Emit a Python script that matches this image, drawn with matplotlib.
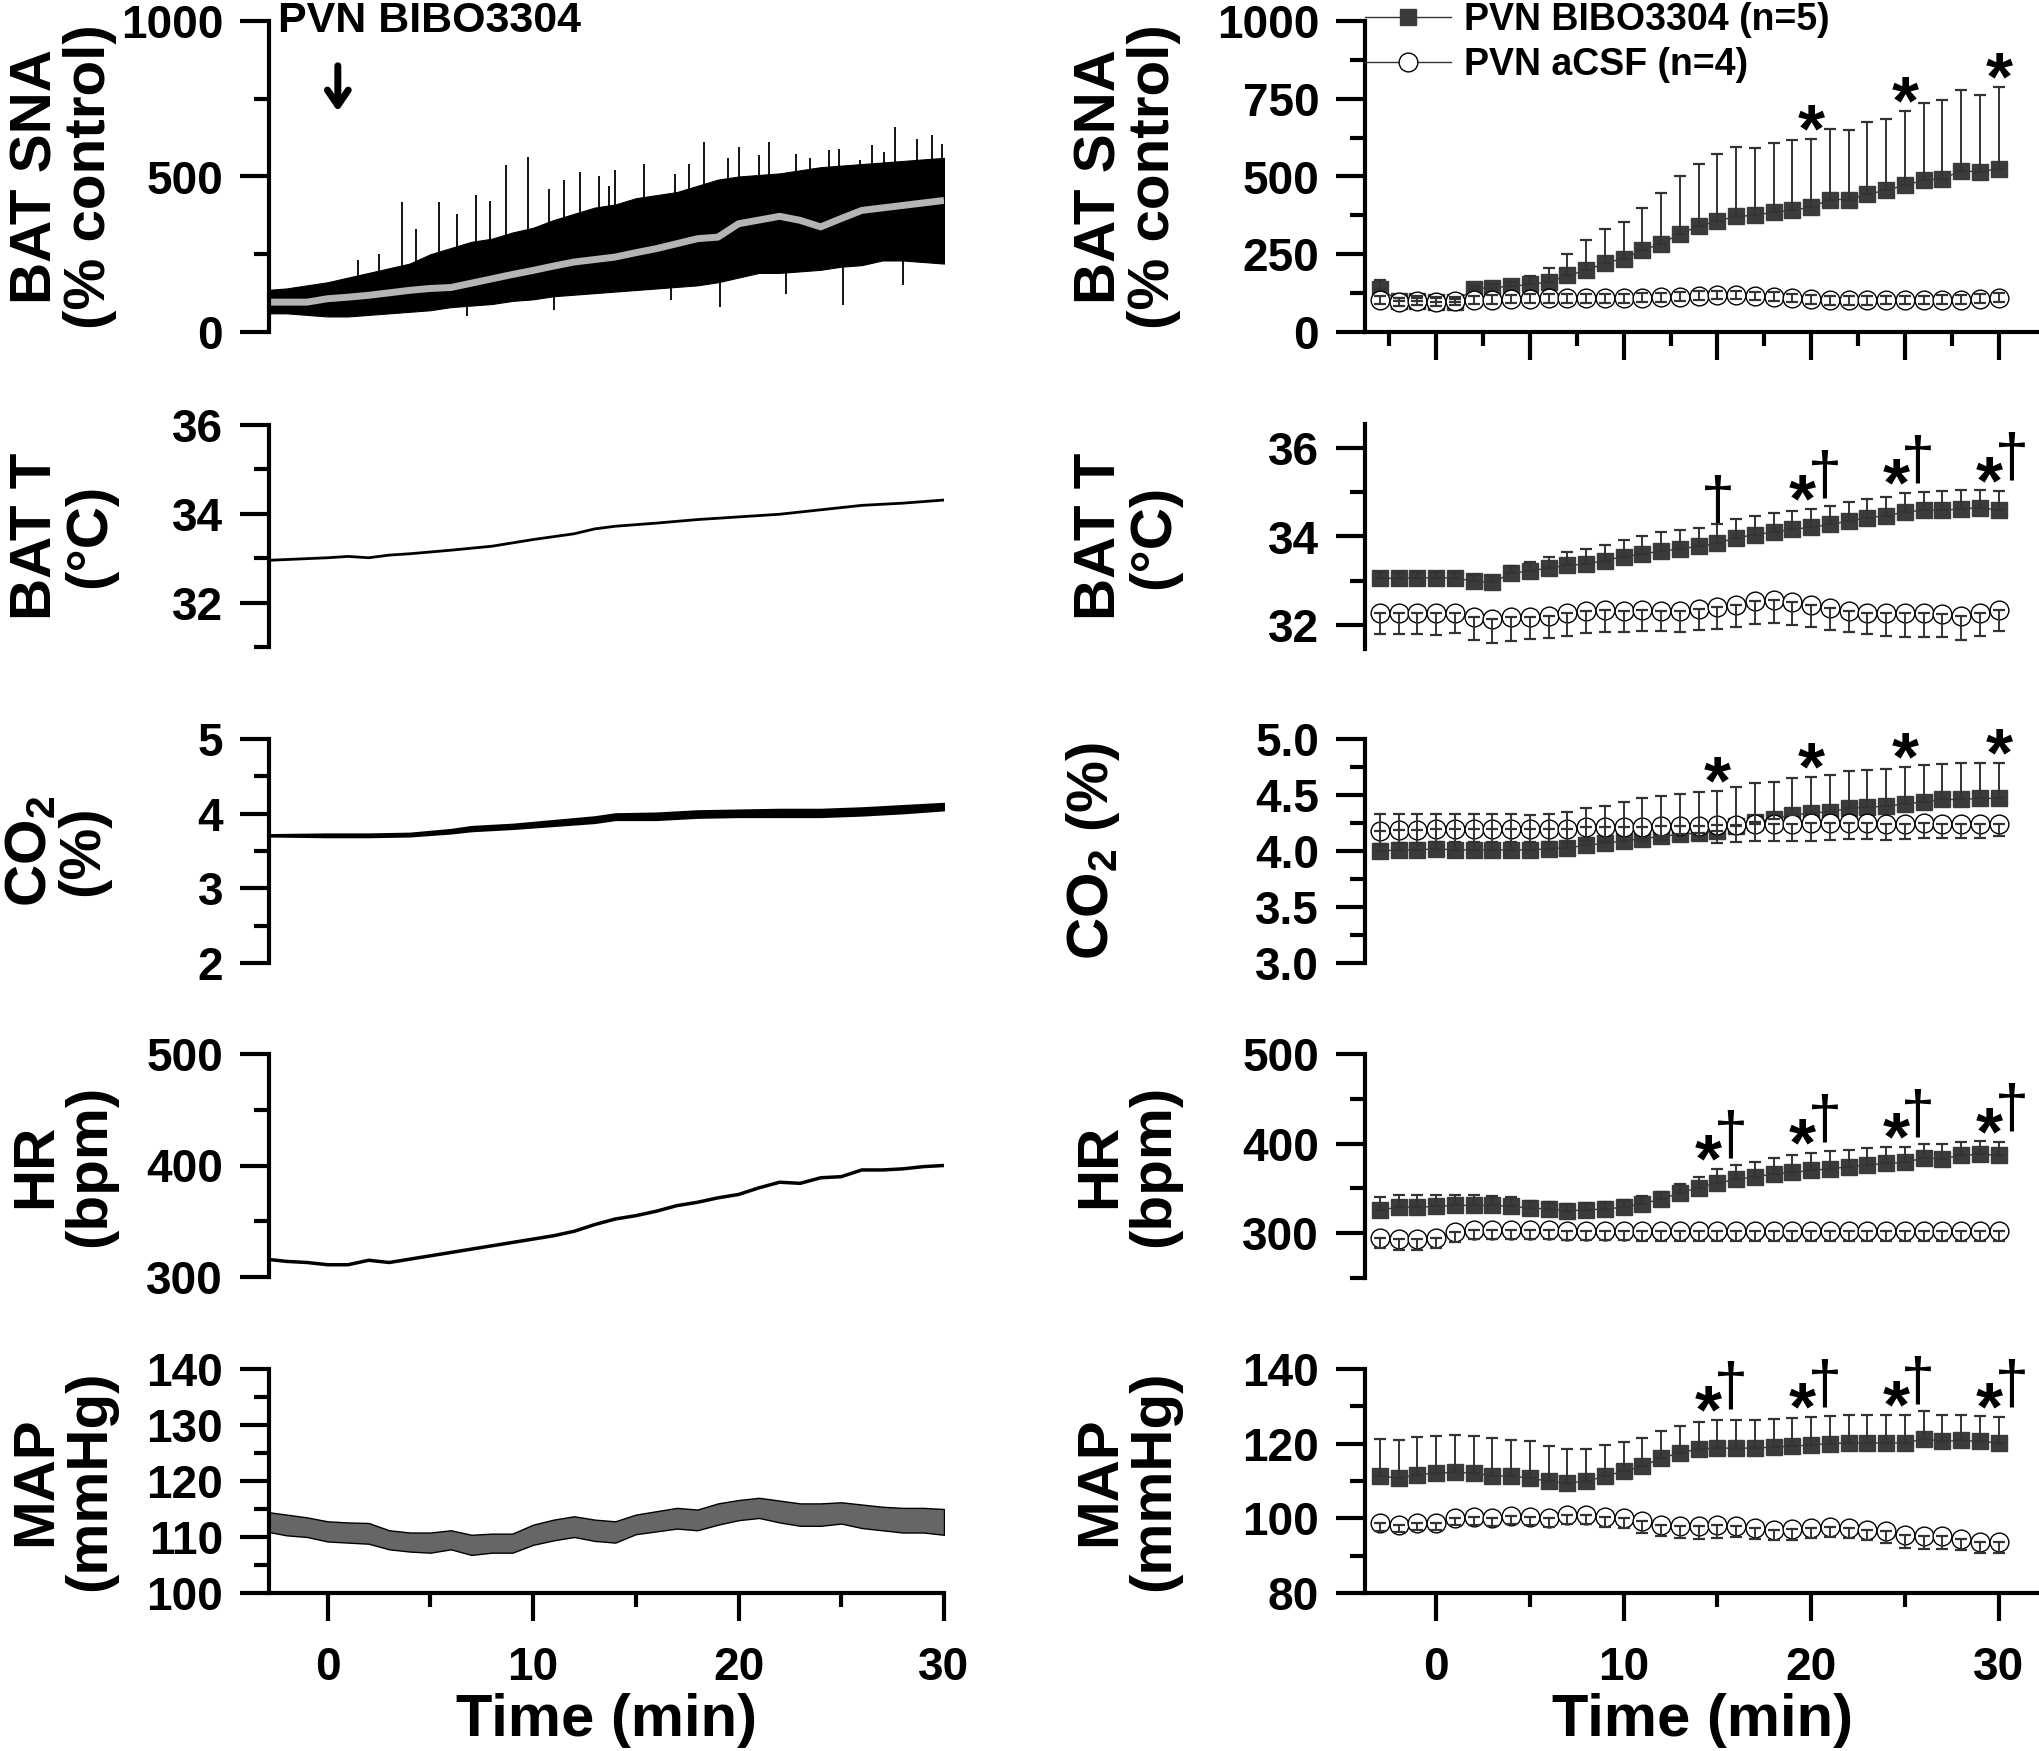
import matplotlib
matplotlib.use('Agg')
import matplotlib.pyplot as plt
import numpy as np
from matplotlib.ticker import MultipleLocator, FormatStrFormatter
from matplotlib.lines import Line2D

plt.rcParams['font.family'] = ['Liberation Sans', 'DejaVu Sans']
plt.rcParams['font.weight'] = 'bold'
plt.rcParams['axes.labelweight'] = 'bold'
plt.rcParams['mathtext.fontset'] = 'custom'
plt.rcParams['mathtext.bf'] = 'Liberation Sans:bold'
plt.rcParams['mathtext.rm'] = 'Liberation Sans:bold'
plt.rcParams['mathtext.default'] = 'bf'

# ---------------- left column: single-rat traces ----------------
# BAT SNA envelope (min / max of raw trace) and running mean, every minute
t_trace = list(range(-3, 31))
sna_hi = [135, 140, 150, 160, 175, 190, 205, 220, 250, 270, 290, 300, 320, 335, 360, 380, 400,
          410, 430, 440, 450, 470, 490, 500, 505, 510, 520, 530, 535, 540, 545, 550, 555, 560]
sna_lo = [60, 60, 55, 50, 50, 55, 60, 65, 70, 80, 85, 90, 100, 105, 115, 120, 125,
          130, 135, 140, 145, 150, 160, 175, 190, 190, 195, 200, 210, 215, 230, 230, 225, 220]
sna_mean = [96, 96, 96, 107, 112, 118, 126, 134, 140, 143, 157, 171, 185, 198, 212, 225, 233,
            241, 255, 268, 284, 300, 305, 348, 360, 372, 359, 338, 365, 391, 399, 407, 415, 423]
spike_t = [1.5, 2.5, 3.6, 4.3, 5.4, 6.3, 7.2, 7.9, 8.7, 9.75, 10.8, 11.5, 12.3, 13.2, 13.7,
           14.0, 15.4, 16.9, 17.6, 18.3, 19.5, 20.0, 21.0, 21.5, 22.8, 23.5, 24.4, 24.9, 25.9,
           26.5, 27.1, 27.6, 28.7, 29.4, 29.9,
           16.7, 19.1, 22.3, 25.1, 28.0, 11.0, 6.8]
spike_v = [230, 250, 418, 330, 418, 380, 440, 420, 536, 563, 460, 490, 514, 500, 470,
           520, 541, 509, 540, 611, 560, 595, 570, 611, 573, 560, 584, 590, 552,
           600, 580, 659, 620, 632, 605,
           102, 80, 123, 86, 150, 70, 50]

t_batt = [-3, 0, 1, 2, 3, 4, 6, 8, 10, 12, 13, 14, 16, 18, 20, 22, 24, 26, 28, 30]
batt_trace = [32.95, 33.01, 33.04, 33.01, 33.07, 33.10, 33.18, 33.27, 33.42, 33.55, 33.66,
              33.72, 33.79, 33.87, 33.93, 33.99, 34.09, 34.19, 34.24, 34.31]

t_co2 = [-3, 0, 2, 4, 6, 7, 9, 11, 13, 14, 16, 18, 20, 22, 24, 26, 28, 30]
co2_hi = [3.72, 3.73, 3.73, 3.74, 3.79, 3.83, 3.86, 3.91, 3.96, 4.00, 4.01, 4.04, 4.05, 4.06,
          4.06, 4.08, 4.11, 4.14]
co2_lo = [3.70, 3.69, 3.69, 3.70, 3.74, 3.77, 3.80, 3.84, 3.88, 3.92, 3.92, 3.95, 3.96, 3.96,
          3.96, 3.98, 4.01, 4.05]

hr_trace = [316, 314, 313, 311, 311, 315, 313, 316, 319, 322, 325, 328, 331, 334, 337, 341, 347,
            352, 355, 359, 364, 367, 371, 374, 380, 385, 384, 389, 390, 396, 396, 397, 399, 400]

map_hi = [114.5, 114.0, 113.5, 112.8, 112.6, 112.5, 111.2, 110.8, 110.8, 111.2, 110.4, 110.6,
          110.6, 112.2, 113.1, 113.7, 113.1, 112.8, 114.0, 114.6, 115.2, 114.9, 116.0, 116.6,
          117.0, 116.5, 116.0, 116.0, 116.2, 115.8, 115.4, 115.2, 115.2, 115.0]
map_lo = [111.0, 110.3, 110.0, 109.2, 109.0, 108.8, 107.8, 107.4, 107.2, 107.8, 106.8, 107.2,
          107.2, 108.6, 109.4, 110.0, 109.3, 109.0, 110.5, 111.0, 111.5, 111.2, 112.2, 113.0,
          113.4, 112.6, 112.0, 112.0, 112.4, 111.6, 111.2, 110.8, 110.8, 110.4]

# ---------------- right column: group means (min -3 .. 30) ----------------
t_grp = list(range(-3, 31))
sna_bibo = [139, 100, 100, 98, 97, 139, 143, 147, 153, 161, 182, 198, 222, 236, 263, 284, 316,
            340, 357, 372, 375, 386, 391, 402, 426, 426, 443, 456, 472, 488, 493, 518, 515, 525]
sna_bibo_err = [27, 10, 10, 10, 10, 8, 10, 14, 26, 46, 70, 97, 109, 119, 137, 163, 187,
                201, 214, 223, 217, 222, 225, 220, 228, 223, 231, 230, 238, 248, 252, 259, 248, 263]
sna_acsf = [103, 96, 101, 97, 100, 103, 104, 106, 107, 108, 108, 108, 108, 108, 110, 112, 114,
            117, 119, 119, 116, 114, 109, 105, 102, 102, 102, 103, 103, 103, 104, 104, 107, 110]
sna_acsf_err = [14] * 34

batt_bibo = [33.06, 33.06, 33.07, 33.07, 33.07, 32.99, 32.97, 33.17, 33.23, 33.29, 33.35, 33.38,
             33.46, 33.55, 33.61, 33.67, 33.72, 33.78, 33.85, 33.97, 34.04, 34.10, 34.16, 34.21,
             34.27, 34.35, 34.42, 34.47, 34.55, 34.59, 34.59, 34.62, 34.65, 34.59]
batt_bibo_err = [0.14, 0.14, 0.14, 0.14, 0.14, 0.14, 0.14, 0.16, 0.20, 0.25, 0.30, 0.33, 0.36,
                 0.38, 0.40, 0.42, 0.42, 0.42, 0.44, 0.43, 0.42, 0.42, 0.42, 0.41, 0.41, 0.42,
                 0.42, 0.42, 0.42, 0.42, 0.43, 0.42, 0.40, 0.44]
batt_acsf = [32.29, 32.29, 32.29, 32.27, 32.29, 32.20, 32.14, 32.18, 32.20, 32.22, 32.27, 32.33,
             32.35, 32.33, 32.35, 32.33, 32.32, 32.37, 32.42, 32.47, 32.56, 32.57, 32.52, 32.47,
             32.39, 32.33, 32.29, 32.27, 32.27, 32.27, 32.26, 32.22, 32.27, 32.35]
batt_acsf_err = [0.49, 0.49, 0.48, 0.48, 0.45, 0.52, 0.53, 0.52, 0.51, 0.51, 0.50, 0.50,
                 0.50, 0.48, 0.48, 0.46, 0.46, 0.48, 0.50, 0.50, 0.52, 0.52, 0.50, 0.50,
                 0.50, 0.48, 0.48, 0.50, 0.52, 0.52, 0.52, 0.54, 0.50, 0.48]

co2_bibo = [4.00, 4.01, 4.01, 4.02, 4.01, 4.01, 4.01, 4.01, 4.01, 4.02, 4.03, 4.05, 4.07, 4.09,
            4.11, 4.13, 4.15, 4.16, 4.18, 4.22, 4.26, 4.29, 4.32, 4.34, 4.35, 4.38, 4.39, 4.40,
            4.42, 4.44, 4.46, 4.46, 4.47, 4.47]
co2_bibo_err = [0.33, 0.32, 0.32, 0.31, 0.32, 0.32, 0.32, 0.32, 0.31, 0.31, 0.32, 0.33, 0.33,
                0.35, 0.36, 0.36, 0.36, 0.37, 0.36, 0.35, 0.35, 0.33, 0.33, 0.32, 0.33, 0.33,
                0.33, 0.33, 0.33, 0.33, 0.32, 0.33, 0.32, 0.32]
co2_acsf = [4.18, 4.19, 4.19, 4.20, 4.20, 4.20, 4.20, 4.20, 4.20, 4.20, 4.20, 4.21, 4.21, 4.21,
            4.21, 4.22, 4.22, 4.22, 4.23, 4.23, 4.24, 4.24, 4.24, 4.25, 4.25, 4.25, 4.25, 4.24,
            4.24, 4.25, 4.24, 4.24, 4.24, 4.24]
co2_acsf_err = [0.12] * 18 + [0.16, 0.15, 0.15, 0.15, 0.15, 0.16, 0.15, 0.14, 0.14, 0.14,
                              0.13, 0.13, 0.12, 0.12, 0.12, 0.11]

hr_bibo = [326, 329, 329, 330, 331, 331, 331, 330, 328, 327, 325, 326, 327, 329, 333, 338, 345,
           351, 356, 360, 363, 366, 368, 370, 372, 374, 376, 378, 379, 384, 383, 387, 388, 387]
hr_bibo_err = [14, 14, 14, 13, 12, 12, 11, 10, 8, 8, 8, 8, 8, 8, 8, 8, 10,
               12, 16, 16, 17, 18, 19, 20, 20, 19, 19, 18, 17, 16, 16, 15, 15, 15]
hr_acsf = [295, 293, 293, 295, 301, 304, 304, 304, 304, 304, 303, 303, 303, 303, 303, 303, 303,
           303, 303, 303, 303, 303, 303, 303, 303, 303, 303, 303, 303, 303, 303, 303, 303, 303]
hr_acsf_err = [11, 12, 12, 11, 11, 10, 10, 11, 11, 11, 11, 11, 11, 11, 12, 12, 12,
               12, 12, 12, 12, 12, 12, 12, 12, 12, 12, 12, 12, 12, 12, 12, 12, 12]

map_bibo = [111.3, 110.8, 111.7, 112.1, 112.3, 112.1, 111.4, 111.3, 110.8, 109.9, 109.5, 109.9,
            111.3, 112.6, 113.9, 116.2, 117.5, 118.6, 118.8, 118.8, 118.8, 119.1, 119.3, 119.7,
            120.0, 120.2, 120.2, 120.2, 120.2, 121.3, 120.6, 120.9, 120.6, 120.2]
map_bibo_err = [10.0, 10.2, 10.2, 10.0, 10.0, 10.0, 10.0, 9.8, 9.8, 9.6, 9.2, 8.8, 8.3, 7.8,
                7.6, 7.1, 7.2, 7.2, 7.6, 7.6, 7.6, 7.5, 7.5, 7.4, 7.4, 7.5, 7.6, 7.6, 7.5,
                7.5, 7.0, 6.9, 6.9, 6.9]
map_acsf = [98.8, 98.3, 98.8, 98.8, 100.1, 100.4, 100.1, 100.7, 100.4, 100.1, 101.0, 101.0,
            100.4, 100.1, 99.2, 98.3, 97.9, 97.9, 98.3, 98.0, 97.4, 97.0, 97.1, 97.4, 97.7,
            97.4, 97.0, 96.5, 95.6, 95.2, 95.4, 94.5, 93.6, 93.6]
map_acsf_err = [2.2, 2.0, 2.0, 2.0, 2.0, 2.2, 2.1, 2.1, 2.1, 2.3, 2.5, 2.5, 2.7, 2.8, 3.0,
                2.9, 3.3, 3.5, 3.5, 3.0, 3.0, 2.8, 2.8, 2.7, 2.8, 2.8, 2.8, 3.0, 3.5,
                3.5, 3.5, 3.0, 3.0, 3.0]

# significance marks (minute, symbols)
sig_sna = [(20, '*'), (25, '*'), (30, '*')]
sig_batt = [(15, '†'), (20, '*†'), (25, '*†'), (30, '*†')]
sig_co2 = [(15, '*'), (20, '*'), (25, '*'), (30, '*')]
sig_hr = [(15, '*†'), (20, '*†'), (25, '*†'), (30, '*†')]
sig_map = [(15, '*†'), (20, '*†'), (25, '*†'), (30, '*†')]

# ---------------- figure ----------------
W, H = 2040, 1751
fig = plt.figure(figsize=(W / 100, H / 100), dpi=100)


def box(x0, y0, x1, y1):
    return [x0 / W, 1 - y1 / H, (x1 - x0) / W, (y1 - y0) / H]


TICK_FS = 33
LAB_FS = 42


def style(ax, xaxis=False):
    ax.spines['top'].set_visible(False)
    ax.spines['right'].set_visible(False)
    ax.spines['left'].set_linewidth(3)
    ax.spines['bottom'].set_linewidth(3)
    if not xaxis:
        ax.spines['bottom'].set_visible(False)
        ax.tick_params(axis='x', which='both', bottom=False, labelbottom=False)
    ax.tick_params(axis='y', which='major', length=21, width=3, labelsize=TICK_FS, pad=12)
    ax.tick_params(axis='y', which='minor', length=11, width=3)
    ax.patch.set_alpha(0)


def ylab(ax, text, xpos, ls=1.0):
    ax.set_ylabel(text, fontsize=LAB_FS, fontweight='bold', linespacing=ls)
    ax.yaxis.set_label_coords(xpos, 0.5)


def xbottom(ax):
    ax.xaxis.set_major_locator(MultipleLocator(10))
    ax.xaxis.set_minor_locator(MultipleLocator(5))
    ax.tick_params(axis='x', which='major', length=20, width=3, labelsize=TICK_FS, pad=18)
    ax.tick_params(axis='x', which='minor', length=10, width=3)
    ax.set_xlabel('Time (min)', fontsize=43, fontweight='bold', labelpad=2)


LX0, LX1 = 269, 944
RX0, RX1 = 1365, 2040
LXLIM = (-2.85, 30)
RXLIM = (-3.8, 32.2)
LLAB = -0.225
RLAB = -0.272

# left 1: BAT SNA trace
ax = fig.add_axes(box(LX0, 21, LX1, 332))
style(ax)
ax.fill_between(t_trace, sna_lo, sna_hi, color='black', lw=0.8)
ax.vlines(spike_t, np.interp(spike_t, t_trace, sna_mean), spike_v, color='black', lw=1.3)
ax.plot(t_trace, sna_mean, color='#b4b4b4', lw=5, solid_capstyle='butt')
ax.set_xlim(*LXLIM)
ax.set_ylim(0, 1000)
ax.yaxis.set_major_locator(MultipleLocator(500))
ax.yaxis.set_minor_locator(MultipleLocator(250))
ax.text(-2.4, 1000, 'PVN BIBO3304', fontsize=31, va='center', ha='left')
ax.annotate('', xy=(0.5, 700), xytext=(0.5, 865),
            arrowprops=dict(arrowstyle='->,head_length=1.1,head_width=0.75', lw=5, color='black'))
ylab(ax, 'BAT SNA\n(% control)', LLAB)

# left 2: BAT T
ax = fig.add_axes(box(LX0, 425, LX1, 647))
style(ax)
ax.plot(t_batt, batt_trace, color='black', lw=2)
ax.set_xlim(*LXLIM)
ax.set_ylim(31, 36)
ax.yaxis.set_major_locator(MultipleLocator(2))
ax.set_yticks([31, 33, 35], minor=True)
ylab(ax, 'BAT T\n(°C)', LLAB)

# left 3: CO2
ax = fig.add_axes(box(LX0, 739, LX1, 963))
style(ax)
ax.fill_between(t_co2, co2_lo, co2_hi, color='black', lw=1.4)
ax.set_xlim(*LXLIM)
ax.set_ylim(2, 5)
ax.yaxis.set_major_locator(MultipleLocator(1))
ax.yaxis.set_minor_locator(MultipleLocator(0.5))
ylab(ax, 'CO$_2$\n(%)', LLAB - 0.01, ls=0.95)

# left 4: HR
ax = fig.add_axes(box(LX0, 1054, LX1, 1277))
style(ax)
ax.plot(t_trace, hr_trace, color='black', lw=2.5)
ax.set_xlim(*LXLIM)
ax.set_ylim(300, 500)
ax.yaxis.set_major_locator(MultipleLocator(100))
ax.yaxis.set_minor_locator(MultipleLocator(50))
ylab(ax, 'HR\n(bpm)', LLAB)

# left 5: MAP
ax = fig.add_axes(box(LX0, 1369, LX1, 1593))
style(ax, xaxis=True)
ax.fill_between(t_trace, map_lo, map_hi, color='#666666', lw=1.0, edgecolor='black')
ax.set_xlim(*LXLIM)
ax.set_ylim(100, 140)
ax.yaxis.set_major_locator(MultipleLocator(10))
ax.yaxis.set_minor_locator(MultipleLocator(5))
xbottom(ax)
ylab(ax, 'MAP\n(mmHg)', LLAB)


# right column
def mark(ax, m, y, s):
    kw = dict(xycoords='data', textcoords='offset points', ha='center', va='center')
    if s == '*':
        ax.annotate('*', (m, y), xytext=(0, 4), fontsize=50, fontweight='bold', **kw)
    elif s == '†':
        ax.annotate('†', (m, y), xytext=(0, 15), fontsize=44, fontweight='normal', **kw)
    else:
        ax.annotate('*', (m, y), xytext=(-6.5, 4), fontsize=50, fontweight='bold', **kw)
        ax.annotate('†', (m, y), xytext=(9.5, 22), fontsize=44, fontweight='normal', **kw)


def group(ax, bibo, bibo_err, acsf, acsf_err, sym=False, sig=None):
    z = np.zeros(len(t_grp))
    ax.plot(t_grp, bibo, color='#333333', lw=1, marker='s', ms=11.5, mfc='#3b3b3b',
            mec='#3b3b3b', zorder=3)
    ax.plot(t_grp, acsf, color='#333333', lw=1, marker='o', ms=13.5, mfc='white',
            mec='black', mew=1.0, zorder=4)
    ax.errorbar(t_grp, bibo, yerr=[z, bibo_err], fmt='none', ecolor='#333333',
                elinewidth=1.4, capsize=4.5, capthick=1.6, zorder=5)
    hi = acsf_err if sym else z
    ax.errorbar(t_grp, acsf, yerr=[acsf_err, hi], fmt='none', ecolor='#333333',
                elinewidth=1.4, capsize=4.5, capthick=1.6, zorder=5)
    for m, s in sig or []:
        i = t_grp.index(m)
        mark(ax, m, bibo[i] + bibo_err[i], s)


# right 1
ax = fig.add_axes(box(RX0, 21, RX1, 332))
style(ax, xaxis=True)
group(ax, sna_bibo, sna_bibo_err, sna_acsf, sna_acsf_err, sym=True, sig=sig_sna)
ax.set_xlim(*RXLIM)
ax.set_ylim(0, 1000)
ax.yaxis.set_major_locator(MultipleLocator(250))
ax.yaxis.set_minor_locator(MultipleLocator(125))
ax.xaxis.set_major_locator(MultipleLocator(5))
ax.set_xticks(np.arange(-2.5, 31, 5), minor=True)
ax.tick_params(axis='x', which='major', length=20, width=3, labelbottom=False)
ax.tick_params(axis='x', which='minor', length=10, width=3)
ylab(ax, 'BAT SNA\n(% control)', RLAB)
handles = [Line2D([], [], color='#333333', lw=1, marker='s', ms=11.5, mfc='#3b3b3b', mec='#3b3b3b'),
           Line2D([], [], color='#333333', lw=1, marker='o', ms=13.5, mfc='white', mec='black')]
ax.legend(handles, ['PVN BIBO3304 (n=5)', 'PVN aCSF (n=4)'], loc='center left',
          bbox_to_anchor=(0.0, 0.93), frameon=False, prop=dict(size=27, weight='bold'),
          handlelength=2.3, handletextpad=0.35, labelspacing=0.25, borderpad=0, borderaxespad=0)

# right 2
ax = fig.add_axes(box(RX0, 424, RX1, 649))
style(ax)
group(ax, batt_bibo, batt_bibo_err, batt_acsf, batt_acsf_err, sig=sig_batt)
ax.set_xlim(*RXLIM)
ax.set_ylim(31.47, 36.53)
ax.yaxis.set_major_locator(MultipleLocator(2))
ax.set_yticks([33, 35], minor=True)
ylab(ax, 'BAT T\n(°C)', RLAB)

# right 3
ax = fig.add_axes(box(RX0, 739, RX1, 963))
style(ax)
group(ax, co2_bibo, co2_bibo_err, co2_acsf, co2_acsf_err, sig=sig_co2)
ax.set_xlim(*RXLIM)
ax.set_ylim(3.0, 5.0)
ax.yaxis.set_major_locator(MultipleLocator(0.5))
ax.yaxis.set_minor_locator(MultipleLocator(0.25))
ax.yaxis.set_major_formatter(FormatStrFormatter('%.1f'))
ylab(ax, 'CO$_2$ (%)', -0.36)

# right 4
ax = fig.add_axes(box(RX0, 1054, RX1, 1278))
style(ax)
group(ax, hr_bibo, hr_bibo_err, hr_acsf, hr_acsf_err, sig=sig_hr)
ax.set_xlim(*RXLIM)
ax.set_ylim(250, 500)
ax.yaxis.set_major_locator(MultipleLocator(100))
ax.yaxis.set_minor_locator(MultipleLocator(50))
ylab(ax, 'HR\n(bpm)', RLAB)

# right 5
ax = fig.add_axes(box(RX0, 1369, RX1, 1593))
style(ax, xaxis=True)
group(ax, map_bibo, map_bibo_err, map_acsf, map_acsf_err, sig=sig_map)
ax.set_xlim(*RXLIM)
ax.set_ylim(80, 140)
ax.yaxis.set_major_locator(MultipleLocator(20))
ax.yaxis.set_minor_locator(MultipleLocator(10))
xbottom(ax)
ylab(ax, 'MAP\n(mmHg)', RLAB)

fig.savefig('out.png', dpi=100)
